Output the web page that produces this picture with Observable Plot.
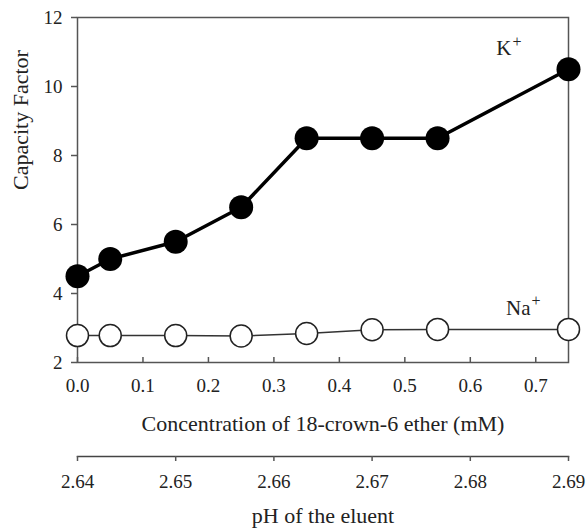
<!DOCTYPE html>
<html><head><meta charset="utf-8">
<script src="https://cdn.jsdelivr.net/npm/d3@7"></script>
<script src="https://cdn.jsdelivr.net/npm/@observablehq/plot@0.6"></script>
<style>body{margin:0;background:#fff} #chart svg{display:block}</style>
</head><body><div id="chart"></div>
<script>
const concentration = [0, 0.05, 0.15, 0.25, 0.35, 0.45, 0.55, 0.75];
const kPlus = [4.5, 5.0, 5.5, 6.5, 8.5, 8.5, 8.5, 10.5];
const naPlus = [2.78, 2.78, 2.78, 2.77, 2.84, 2.95, 2.96, 2.96];
const xTicks = [0, 0.1, 0.2, 0.3, 0.4, 0.5, 0.6, 0.7];
const yTicks = [2, 4, 6, 8, 10, 12];
const phTicks = [2.64, 2.65, 2.66, 2.67, 2.68, 2.69];
const ionLabels = [{ion: "K", x: 0.663, y: 11.1}, {ion: "Na", x: 0.692, y: 3.57}];
const xTitle = "Concentration of 18-crown-6 ether (mM)";
const yTitle = "Capacity Factor";
const phTitle = "pH of the eluent";

const kData = concentration.map((c, i) => ({c, v: kPlus[i]}));
const naData = concentration.map((c, i) => ({c, v: naPlus[i]}));

const font = "'Liberation Serif', 'Times New Roman', serif";
const ink = "#222";

const main = Plot.plot({
  width: 586, height: 440,
  marginLeft: 77, marginRight: 18, marginTop: 17, marginBottom: 78,
  style: {fontFamily: font, fontSize: "19px", color: ink, background: "#fff"},
  x: {domain: [0, 0.75]},
  y: {domain: [2, 12]},
  marks: [
    Plot.frame({stroke: "#555", strokeWidth: 1.5}),
    Plot.axisY({ticks: yTicks, tickSize: 6, tickPadding: 9, label: null, stroke: "#555", strokeWidth: 1.5}),
    Plot.axisX({ticks: xTicks, tickSize: -5, tickPadding: 21, tickFormat: d3.format(".1f"), label: null, stroke: "#555", strokeWidth: 1.5}),
    Plot.text([xTitle], {frameAnchor: "bottom", dy: 61, fontSize: 22, lineAnchor: "middle", fill: ink}),
    Plot.text([yTitle], {frameAnchor: "left", dx: -57, rotate: -90, fontSize: 22, lineAnchor: "middle", fill: ink}),
    Plot.line(naData, {x: "c", y: "v", stroke: "#333", strokeWidth: 1.5}),
    Plot.line(kData, {x: "c", y: "v", stroke: "#000", strokeWidth: 3.5}),
    Plot.dot(naData, {x: "c", y: "v", r: 11, fill: "#fff", stroke: "#222", strokeWidth: 1.5}),
    Plot.dot(kData, {x: "c", y: "v", r: 12, fill: "#000", stroke: "none"}),
    Plot.text(ionLabels, {x: "x", y: "y", text: "ion", textAnchor: "end", lineAnchor: "middle", fontSize: 21, fill: ink}),
    Plot.text(ionLabels, {x: "x", y: "y", text: () => "+", textAnchor: "start", lineAnchor: "middle", dx: 1, dy: -7, fontSize: 16, fill: ink})
  ]
});

const ph = Plot.plot({
  width: 586, height: 88,
  marginLeft: 77, marginRight: 18, marginTop: 12, marginBottom: 72,
  style: {fontFamily: font, fontSize: "19px", color: ink, background: "#fff"},
  x: {domain: [2.64, 2.69]},
  marks: [
    Plot.frame({anchor: "bottom", stroke: "#444", strokeWidth: 1.5}),
    Plot.axisX({ticks: phTicks, tickSize: 5, tickPadding: 13, tickFormat: d3.format(".2f"), label: null, stroke: "#555", strokeWidth: 1.5}),
    Plot.text([phTitle], {frameAnchor: "bottom", dy: 59, fontSize: 22, lineAnchor: "middle", fill: ink})
  ]
});

document.getElementById("chart").append(main, ph);
</script>
</body></html>
